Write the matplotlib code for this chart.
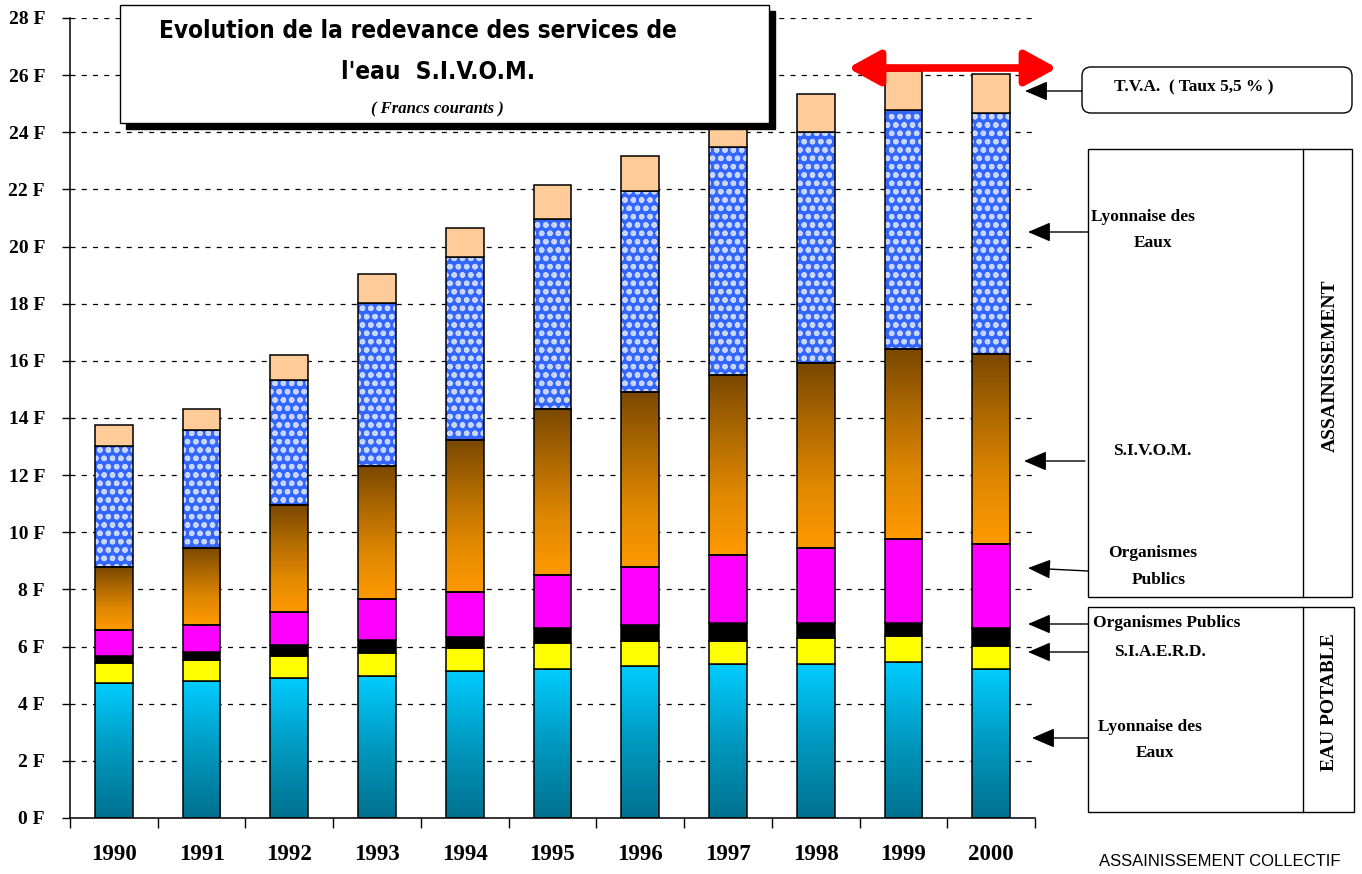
import numpy as np
import matplotlib
matplotlib.use('Agg')
import matplotlib.pyplot as plt
from matplotlib.patches import Rectangle, FancyBboxPatch
from matplotlib.colors import LinearSegmentedColormap

# values in francs (one value per year)
years = ['1990', '1991', '1992', '1993', '1994', '1995', '1996', '1997', '1998', '1999', '2000']
lyonnaiseEau = [4.71, 4.78, 4.90, 4.97, 5.14, 5.20, 5.31, 5.38, 5.38, 5.45, 5.20]
siaerd = [0.73, 0.76, 0.78, 0.82, 0.82, 0.94, 0.90, 0.83, 0.93, 0.93, 0.83]
orgPublicsEau = [0.23, 0.27, 0.38, 0.44, 0.37, 0.51, 0.55, 0.60, 0.50, 0.43, 0.62]
orgPublicsAss = [0.90, 0.93, 1.16, 1.42, 1.57, 1.84, 2.01, 2.38, 2.63, 2.94, 2.93]
sivom = [2.20, 2.70, 3.74, 4.67, 5.32, 5.81, 6.13, 6.31, 6.47, 6.65, 6.66]
lyonnaiseAss = [4.26, 4.13, 4.36, 5.69, 6.40, 6.65, 7.06, 8.00, 8.09, 8.38, 8.42]
tva = [0.72, 0.74, 0.87, 1.02, 1.02, 1.19, 1.21, 1.30, 1.34, 1.37, 1.37]

yTicks = list(range(0, 29, 2))

serif = 'Liberation Serif'

W, H = 1362, 874
plt.rcParams['hatch.linewidth'] = 1.6
fig = plt.figure(figsize=(W / 100, H / 100), dpi=100)
ax = fig.add_axes([70 / W, 56 / H, 965 / W, 800 / H])

x = np.arange(len(years))
barWidth = 0.43

cyanMap = LinearSegmentedColormap.from_list('cyan', ['#00718F', '#0099C0', '#00CCFF'])
brownMap = LinearSegmentedColormap.from_list('brown', ['#FF9900', '#E08800', '#B06A00', '#7A4800'])

def gradientBar(bottoms, heights, cmap):
    grad = np.linspace(0, 1, 256).reshape(-1, 1)
    for xi, b, h in zip(x, bottoms, heights):
        ax.imshow(grad, cmap=cmap, aspect='auto', origin='lower', interpolation='bilinear',
                  extent=[xi - barWidth / 2, xi + barWidth / 2, b, b + h], zorder=2)

series = [lyonnaiseEau, siaerd, orgPublicsEau, orgPublicsAss, sivom, lyonnaiseAss, tva]
bottom = np.zeros(len(years))
for i, vals in enumerate(series):
    vals = np.array(vals)
    if i == 0:
        gradientBar(bottom, vals, cyanMap)
        ax.bar(x, vals, barWidth, bottom=bottom, fill=False, edgecolor='black', lw=1.1, zorder=3)
    elif i == 4:
        gradientBar(bottom, vals, brownMap)
        ax.bar(x, vals, barWidth, bottom=bottom, fill=False, edgecolor='black', lw=1.1, zorder=3)
    elif i == 5:
        ax.bar(x, vals, barWidth, bottom=bottom, color='#3366FF', hatch='oo', edgecolor='#C8D6FF', lw=0, zorder=2)
        ax.bar(x, vals, barWidth, bottom=bottom, fill=False, edgecolor='black', lw=1.1, zorder=3)
    else:
        col = ['', '#FFFF00', '#000000', '#FF00FF', '', '', '#FFCC99'][i]
        ax.bar(x, vals, barWidth, bottom=bottom, color=col, edgecolor='black', lw=1.1, zorder=3)
    bottom = bottom + vals

ax.set_xlim(-0.5, len(years) - 0.5)
ax.set_ylim(0, 28)
for s in ['top', 'right']:
    ax.spines[s].set_visible(False)
ax.spines['left'].set_linewidth(1.1)
ax.spines['bottom'].set_linewidth(1.1)

ax.set_yticks(yTicks)
ax.set_yticklabels([f'{v} F' for v in yTicks], fontfamily=serif, fontweight='bold', fontsize=14)
ax.tick_params(axis='y', length=6, width=1.0, pad=12)
ax.set_xticks(x)
ax.set_xticklabels(years, fontfamily=serif, fontweight='bold', fontsize=16.5)
ax.set_xticks(np.arange(-0.5, len(years)), minor=True)
ax.tick_params(axis='x', which='major', length=0, pad=19)
ax.tick_params(axis='x', which='minor', length=7, width=1.0)
ax.yaxis.grid(True, color='black', lw=0.9, linestyle=(0, (4, 5)))
ax.set_axisbelow(True)

# overlay in pixel coordinates for the boxes and arrows
ov = fig.add_axes([0, 0, 1, 1], zorder=5)
ov.set_xlim(0, W)
ov.set_ylim(H, 0)
ov.axis('off')

# title box with shadow
ov.add_patch(Rectangle((126, 11), 649, 118, facecolor='black', edgecolor='black'))
ov.add_patch(Rectangle((120, 5), 649, 118, facecolor='white', edgecolor='black', lw=1))
ov.text(418, 31, 'Evolution de la redevance des services de', ha='center', va='center',
        fontsize=17.5, family='DejaVu Sans', fontstretch='condensed', fontweight='bold')
ov.text(438, 72, "l'eau  S.I.V.O.M.", ha='center', va='center', fontsize=17.5,
        family='DejaVu Sans', fontstretch='condensed', fontweight='bold')
ov.text(437, 109, '( Francs courants )', ha='center', va='center', fontsize=12,
        family=serif, fontweight='bold', style='italic')

# red double arrow
ov.annotate('', xy=(848, 68), xytext=(1057, 68),
            arrowprops=dict(arrowstyle='<|-|>,head_length=0.6,head_width=0.33', color='#FF0000',
                            lw=5.5, mutation_scale=32, shrinkA=0, shrinkB=0))

# T.V.A. box
ov.add_patch(FancyBboxPatch((1082, 67), 270, 46, boxstyle='round,pad=0,rounding_size=9',
                            facecolor='white', edgecolor='black', lw=1))
ov.text(1194, 87, 'T.V.A.  ( Taux 5,5 % )', ha='center', va='center', fontsize=12.5,
        family=serif, fontweight='bold')

# group boxes
ov.add_patch(Rectangle((1088, 149), 264, 448, facecolor='none', edgecolor='black', lw=1))
ov.plot([1303, 1303], [149, 597], color='black', lw=1)
ov.add_patch(Rectangle((1088, 607), 266, 205, facecolor='none', edgecolor='black', lw=1))
ov.plot([1303, 1303], [607, 812], color='black', lw=1)
ov.text(1330, 366, 'ASSAINISSEMENT', rotation=90, ha='center', va='center', fontsize=14,
        family=serif, fontweight='bold')
ov.text(1329, 702, 'EAU POTABLE', rotation=90, ha='center', va='center', fontsize=14,
        family=serif, fontweight='bold')

labels = [('Lyonnaise des', 1143, 217), ('Eaux', 1153, 243),
          ('S.I.V.O.M.', 1152, 451),
          ('Organismes', 1153, 553), ('Publics', 1159, 580),
          ('Organismes Publics', 1167, 623), ('S.I.A.E.R.D.', 1160, 652),
          ('Lyonnaise des', 1150, 727), ('Eaux', 1155, 753)]
for txt, tx, ty in labels:
    ov.text(tx, ty, txt, ha='center', va='center', fontsize=12.5, family=serif, fontweight='bold')

arrows = [(1082, 91, 1025, 91), (1088, 232, 1028, 232), (1085, 461, 1024, 461),
          (1088, 571, 1028, 568), (1088, 624, 1028, 624), (1088, 652, 1028, 652),
          (1088, 738, 1032, 738)]
for x0, y0, x1, y1 in arrows:
    ov.annotate('', xy=(x1, y1), xytext=(x0, y0),
                arrowprops=dict(arrowstyle='-|>,head_length=0.7,head_width=0.3', color='black',
                                lw=1, mutation_scale=20, shrinkA=0, shrinkB=0))

ov.text(1220, 862, 'ASSAINISSEMENT COLLECTIF', ha='center', va='center', fontsize=12,
        family=['Liberation Sans', 'DejaVu Sans'])

plt.savefig('out.png', dpi=100)
plt.close()
